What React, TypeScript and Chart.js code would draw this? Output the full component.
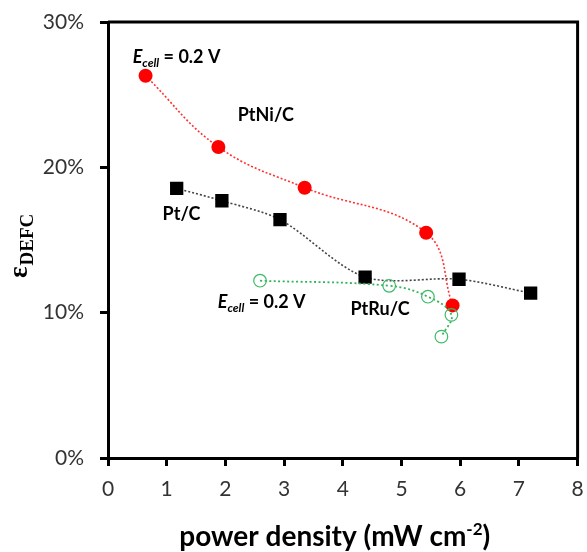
import { useEffect, useRef } from "react";
import { Chart, registerables } from "chart.js";

Chart.register(...registerables);

// Axis ticks
const xTickValues = [0, 1, 2, 3, 4, 5, 6, 7, 8];
const yTickValues = [0, 10, 20, 30];

// Power density (mW cm-2) and efficiency (%) for each catalyst
const ptNiPower = [0.64, 1.88, 3.35, 5.42, 5.87];
const ptNiEff = [26.3, 21.4, 18.6, 15.5, 10.5];

const ptPower = [1.17, 1.94, 2.93, 4.38, 5.98, 7.2];
const ptEff = [18.55, 17.7, 16.4, 12.45, 12.3, 11.35];

const ptRuPower = [2.59, 4.79, 5.45, 5.85, 5.68];
const ptRuEff = [12.2, 11.85, 11.1, 9.85, 8.35];

// Text labels placed in data coordinates (start x, baseline y)
const seriesLabels = [
  { text: "PtNi/C", x: 2.21, y: 23.2 },
  { text: "Pt/C", x: 0.93, y: 16.4 },
  { text: "PtRu/C", x: 4.13, y: 9.83 },
];
const cellLabels = [
  { x: 0.42, y: 27.2 },
  { x: 1.87, y: 10.3 },
];

const toPoints = (xs: number[], ys: number[]) => xs.map((x, i) => ({ x, y: ys[i] }));

function drawEcell(ctx: CanvasRenderingContext2D, x: number, y: number) {
  ctx.textAlign = "left";
  ctx.textBaseline = "alphabetic";
  ctx.fillStyle = "#000";
  ctx.font = "italic bold 18px Lato";
  ctx.fillText("E", x, y);
  x += ctx.measureText("E").width;
  ctx.font = "italic bold 12px Lato";
  ctx.fillText("cell", x, y + 4);
  x += ctx.measureText("cell").width;
  ctx.font = "bold 18px Lato";
  ctx.fillText(" = 0.2 V", x, y);
}

const decorations = {
  id: "decorations",
  afterDraw(chart: any) {
    const { ctx, chartArea, scales } = chart;
    const xs = scales.x;
    const ys = scales.y;
    ctx.save();

    // frame top and right edges
    ctx.strokeStyle = "#000";
    ctx.lineWidth = 3;
    ctx.beginPath();
    ctx.moveTo(chartArea.left, chartArea.top);
    ctx.lineTo(chartArea.right, chartArea.top);
    ctx.lineTo(chartArea.right, chartArea.bottom);
    ctx.stroke();

    // series names
    ctx.fillStyle = "#000";
    ctx.textAlign = "left";
    ctx.textBaseline = "alphabetic";
    ctx.font = "bold 18px Lato";
    for (const l of seriesLabels) {
      ctx.fillText(l.text, xs.getPixelForValue(l.x), ys.getPixelForValue(l.y));
    }
    for (const l of cellLabels) {
      drawEcell(ctx, xs.getPixelForValue(l.x), ys.getPixelForValue(l.y));
    }

    // x axis title with superscript
    const cx = (chartArea.left + chartArea.right) / 2 - 8;
    const by = 546;
    const partA = "power density (mW cm";
    const sup = "-2";
    const partB = ")";
    ctx.font = "bold 28px Lato";
    const wA = ctx.measureText(partA).width;
    const wB = ctx.measureText(partB).width;
    ctx.font = "bold 17px Lato";
    const wS = ctx.measureText(sup).width;
    let tx = cx - (wA + wS + wB) / 2;
    ctx.font = "bold 28px Lato";
    ctx.fillText(partA, tx, by);
    tx += wA;
    ctx.font = "bold 17px Lato";
    ctx.fillText(sup, tx, by - 11);
    tx += wS;
    ctx.font = "bold 28px Lato";
    ctx.fillText(partB, tx, by);

    // y axis title: epsilon with subscript, rotated
    ctx.translate(27, 278);
    ctx.rotate(-Math.PI / 2);
    ctx.font = "bold 27px 'Liberation Serif'";
    ctx.fillText("\u03b5", 0, 0);
    const we = ctx.measureText("\u03b5").width;
    ctx.font = "bold 19px 'Liberation Serif'";
    ctx.fillText("DEFC", we + 1, 6);
    ctx.restore();
  },
};

export default function App() {
  const canvasRef = useRef<HTMLCanvasElement | null>(null);

  useEffect(() => {
    const canvas = canvasRef.current;
    if (!canvas) return;
    const tickFont = { family: "Lato", size: 21 };
    const chart = new Chart(canvas, {
      type: "scatter",
      data: {
        datasets: [
          {
            label: "PtRu/C",
            data: toPoints(ptRuPower, ptRuEff),
            showLine: true,
            tension: 0.4,
            borderColor: "#2fb45a",
            borderWidth: 1.8,
            borderDash: [2, 2.5],
            pointStyle: "circle",
            pointRadius: 6.3,
            pointBackgroundColor: "rgba(0,0,0,0)",
            pointBorderColor: "#3cba64",
            pointBorderWidth: 1.2,
          },
          {
            label: "PtNi/C",
            data: toPoints(ptNiPower, ptNiEff),
            showLine: true,
            tension: 0.4,
            borderColor: "#ff3030",
            borderWidth: 1.6,
            borderDash: [2, 2],
            pointStyle: "circle",
            pointRadius: 7,
            pointBackgroundColor: "#ff0000",
            pointBorderColor: "#ff0000",
            pointBorderWidth: 0,
          },
          {
            label: "Pt/C",
            data: toPoints(ptPower, ptEff),
            showLine: true,
            tension: 0.3,
            borderColor: "#444",
            borderWidth: 1.6,
            borderDash: [2, 2],
            pointStyle: "rect",
            pointRadius: 9.4,
            pointBackgroundColor: "#000",
            pointBorderColor: "#000",
            pointBorderWidth: 0,
          },
        ],
      },
      options: {
        responsive: false,
        animation: false,
        devicePixelRatio: 1,
        layout: { padding: { left: 0, top: 22, right: 9, bottom: 0 } },
        plugins: {
          legend: { display: false },
          tooltip: { enabled: false },
        },
        scales: {
          x: {
            type: "linear",
            min: xTickValues[0],
            max: xTickValues[xTickValues.length - 1],
            afterBuildTicks: (s: any) => {
              s.ticks = xTickValues.map((v) => ({ value: v }));
            },
            ticks: {
              font: tickFont,
              color: "#333",
              padding: 11,
              maxRotation: 0,
              callback: (v: any) => String(v),
            },
            grid: {
              display: true,
              drawOnChartArea: false,
              drawTicks: true,
              tickLength: 8,
              tickWidth: 3,
              tickColor: "#000",
              lineWidth: 3,
              color: "#000",
            },
            border: { display: true, color: "#000", width: 3 },
            afterFit: (s: any) => {
              s.height = 94;
              s.paddingLeft = 0;
              s.paddingRight = 0;
            },
          },
          y: {
            type: "linear",
            min: yTickValues[0],
            max: yTickValues[yTickValues.length - 1],
            afterBuildTicks: (s: any) => {
              s.ticks = yTickValues.map((v) => ({ value: v }));
            },
            ticks: {
              font: tickFont,
              color: "#333",
              padding: 16,
              callback: (v: any) => `${v}%`,
            },
            grid: {
              display: true,
              drawOnChartArea: false,
              drawTicks: true,
              tickLength: 8,
              tickWidth: 3,
              tickColor: "#000",
              lineWidth: 3,
              color: "#000",
            },
            border: { display: true, color: "#000", width: 3 },
            afterFit: (s: any) => {
              s.width = 108;
              s.paddingTop = 0;
              s.paddingBottom = 0;
            },
          },
        },
      },
      plugins: [decorations],
    });
    return () => chart.destroy();
  }, []);

  return (
    <div style={{ position: "fixed", left: 0, top: 0, width: 587, height: 552, background: "#fff" }}>
      <canvas ref={canvasRef} width={587} height={552} style={{ display: "block" }} />
    </div>
  );
}
